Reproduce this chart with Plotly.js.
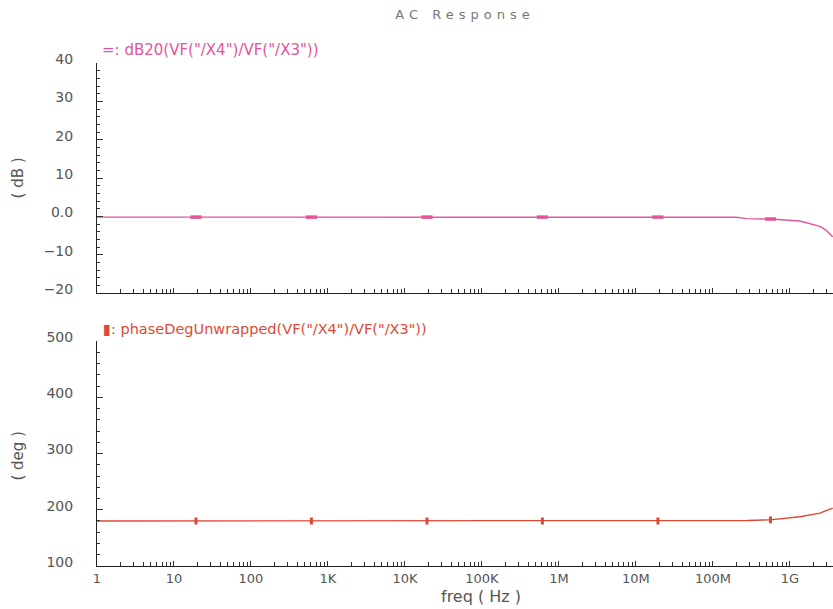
<!DOCTYPE html>
<html>
<head>
<meta charset="utf-8">
<script src="https://cdn.plot.ly/plotly-3.0.1.min.js"></script>
<style>
  html, body { margin: 0; padding: 0; background: #fff; }
  #chart { width: 833px; height: 609px; }
  .gtitle { letter-spacing: 5px; }
</style>
</head>
<body>
<div id="chart"></div>
<script>
// ---- data ----
const freq      = [1, 10, 100, 1e3, 1e4, 1e5, 1e6, 1e7, 1e8, 2.0e8, 2.77e8, 5.5e8, 1.35e9, 2.45e9, 2.95e9, 3.6e9];
const magDB     = [-0.2, -0.2, -0.2, -0.2, -0.2, -0.2, -0.2, -0.2, -0.2, -0.25, -0.6, -0.7, -1.2, -2.6, -3.6, -5.3];
const phaseDeg  = [180, 180, 180, 180, 180, 180, 180, 180, 180, 180.3, 181, 182, 187.6, 194, 198, 203];

const markerFreq  = [19.3, 610, 1.93e4, 6.1e5, 1.93e7, 5.6e8];
const markerMag   = [-0.2, -0.2, -0.2, -0.2, -0.2, -0.7];
const markerPhase = [180, 180, 180, 180, 180, 182];

const xTickVals = [1, 10, 100, 1e3, 1e4, 1e5, 1e6, 1e7, 1e8, 1e9];
const xTickText = ["1", "10", "100", "1K", "10K", "100K", "1M", "10M", "100M", "1G"];
const dbTickVals = [-20, -10, 0, 10, 20, 30, 40];
const dbTickText = ["\u221220", "\u221210", "0.0", "10", "20", "30", "40"];
const degTickVals = [100, 200, 300, 400, 500];
const degTickText = ["100", "200", "300", "400", "500"];

const magLabel   = '=: dB20(VF("/X4")/VF("/X3"))';
const phaseLabel = '\u25AE: phaseDegUnwrapped(VF("/X4")/VF("/X3"))';

// ---- styles ----
const PINK = '#e2559a';
const RED  = '#dc4a36';
const FONT = 'DejaVu Sans, sans-serif';
const TICKC = '#333';
const LBLC = '#555';

const traces = [
  { x: freq, y: magDB, xaxis: 'x2', yaxis: 'y2', mode: 'lines',
    line: { color: PINK, width: 1.4 }, hoverinfo: 'skip' },
  { x: markerFreq, y: markerMag, xaxis: 'x2', yaxis: 'y2', mode: 'markers',
    marker: { symbol: 'line-ew', size: 8, color: PINK, line: { color: PINK, width: 3.5 } } },
  { x: freq, y: phaseDeg, xaxis: 'x', yaxis: 'y', mode: 'lines',
    line: { color: RED, width: 1.4 }, hoverinfo: 'skip' },
  { x: markerFreq, y: markerPhase, xaxis: 'x', yaxis: 'y', mode: 'markers',
    marker: { symbol: 'line-ns', size: 5, color: RED, line: { color: RED, width: 3 } } }
];

const xCommon = {
  type: 'log', range: [0, 9.56], showgrid: false, zeroline: false,
  showline: true, linecolor: '#222', linewidth: 1,
  tickmode: 'array', tickvals: xTickVals, ticktext: xTickText,
  ticks: 'inside', ticklen: 5, tickcolor: TICKC, tickwidth: 1,
  minor: { dtick: 'D1', ticks: 'inside', ticklen: 4, tickcolor: TICKC, showgrid: false },
  tickfont: { family: FONT, size: 13, color: LBLC }
};

const layout = {
  width: 833, height: 609,
  margin: { l: 97, r: 0, t: 63, b: 43 },
  paper_bgcolor: '#fff', plot_bgcolor: '#fff',
  showlegend: false,
  title: { text: 'AC Response', x: 0.5, xref: 'paper', y: 1 - 14 / 609, yanchor: 'middle',
           font: { family: FONT, size: 13, color: '#777' } },
  xaxis: Object.assign({}, xCommon, { anchor: 'y' }),
  xaxis2: Object.assign({}, xCommon, { anchor: 'y2', matches: 'x', showticklabels: false }),
  yaxis: {
    domain: [0, 0.4473], range: [100, 500], showgrid: false, zeroline: false,
    showline: true, linecolor: '#222', linewidth: 1,
    tickmode: 'array', tickvals: degTickVals, ticktext: degTickText,
    ticks: 'inside', ticklen: 6, tickcolor: TICKC,
    minor: { dtick: 20, ticks: 'inside', ticklen: 3, tickcolor: TICKC, showgrid: false },
    ticklabelstandoff: 20, ticklabelshift: -4,
    tickfont: { family: FONT, size: 14, color: LBLC }
  },
  yaxis2: {
    domain: [0.5427, 1], range: [-20, 40], showgrid: false, zeroline: false,
    showline: true, linecolor: '#222', linewidth: 1,
    tickmode: 'array', tickvals: dbTickVals, ticktext: dbTickText,
    ticks: 'inside', ticklen: 6, tickcolor: TICKC,
    minor: { dtick: 2, ticks: 'inside', ticklen: 3, tickcolor: TICKC, showgrid: false },
    ticklabelstandoff: 20, ticklabelshift: -4,
    tickfont: { family: FONT, size: 14, color: LBLC }
  },
  annotations: [
    { text: magLabel, xref: 'paper', yref: 'paper', x: 0.004, y: 1.026, xanchor: 'left', yanchor: 'middle',
      showarrow: false, font: { family: FONT, size: 15, color: PINK } },
    { text: phaseLabel, xref: 'paper', yref: 'paper', x: 0.006, y: 0.471, xanchor: 'left', yanchor: 'middle',
      showarrow: false, font: { family: FONT, size: 14.5, color: RED } },
    { text: '( dB )', xref: 'paper', yref: 'paper', x: -0.107, y: 0.771, xanchor: 'center', yanchor: 'middle',
      textangle: -90, showarrow: false, font: { family: FONT, size: 15, color: LBLC } },
    { text: '( deg )', xref: 'paper', yref: 'paper', x: -0.107, y: 0.22, xanchor: 'center', yanchor: 'middle',
      textangle: -90, showarrow: false, font: { family: FONT, size: 15, color: LBLC } },
    { text: 'freq ( Hz )', xref: 'paper', yref: 'paper', x: 0.522, y: -0.0616, xanchor: 'center', yanchor: 'middle',
      showarrow: false, font: { family: FONT, size: 16, color: LBLC } }
  ]
};

Plotly.newPlot('chart', traces, layout, { displayModeBar: false, staticPlot: true });
</script>
</body>
</html>
